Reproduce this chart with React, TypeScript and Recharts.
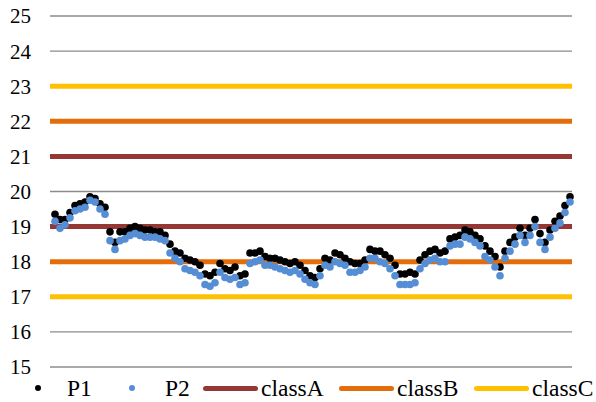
import React from 'react';
import { ScatterChart, Scatter, XAxis, YAxis, CartesianGrid } from 'recharts';

// Readings of the two probes, one per sample
const p1Values = [
  19.35, 19.2, 19.2, 19.4, 19.6, 19.65, 19.7, 19.85, 19.8, 19.65, 19.55,
  18.85, 18.55, 18.85, 18.85, 18.95, 19.0, 18.95, 18.9, 18.9, 18.85, 18.85, 18.75,
  18.5, 18.3, 18.25, 18.1, 18.05, 18.0, 17.9, 17.65, 17.6, 17.7, 17.95, 17.8, 17.75,
  17.85, 17.6, 17.65, 18.25, 18.25, 18.3, 18.15, 18.1, 18.1, 18.05, 18.0, 17.95,
  18.0, 17.9, 17.75, 17.6, 17.55, 17.8, 18.1, 18.05, 18.25, 18.2, 18.1, 18.0,
  17.95, 17.95, 18.05, 18.35, 18.3, 18.3, 18.2, 18.1, 17.9, 17.65, 17.65, 17.7,
  17.65, 18.05, 18.2, 18.3, 18.35, 18.25, 18.3, 18.65, 18.7, 18.75, 18.9, 18.85,
  18.75, 18.65, 18.45, 18.3, 18.15, 17.85, 18.3, 18.55, 18.7, 18.95, 18.75, 18.95,
  19.2, 18.8, 18.55, 18.9, 19.15, 19.3, 19.6, 19.85,
];

const p2Values = [
  19.15, 18.95, 19.05, 19.25, 19.45, 19.5, 19.55, 19.75, 19.7, 19.5, 19.35,
  18.6, 18.35, 18.6, 18.65, 18.75, 18.8, 18.75, 18.7, 18.7, 18.7, 18.65, 18.6,
  18.25, 18.1, 18.0, 17.8, 17.75, 17.7, 17.6, 17.35, 17.3, 17.4, 17.7, 17.55, 17.5,
  17.55, 17.35, 17.4, 17.95, 18.0, 18.05, 17.9, 17.9, 17.85, 17.8, 17.75, 17.7,
  17.75, 17.65, 17.5, 17.4, 17.35, 17.6, 17.9, 17.85, 18.0, 17.95, 17.9, 17.7,
  17.7, 17.75, 17.85, 18.1, 18.1, 18.0, 17.95, 17.8, 17.6, 17.35, 17.35, 17.35,
  17.4, 17.8, 17.95, 18.05, 18.1, 18.0, 18.0, 18.45, 18.5, 18.5, 18.7, 18.65,
  18.55, 18.45, 18.15, 18.05, 17.85, 17.6, 18.1, 18.3, 18.5, 18.75, 18.55, 18.75,
  19.0, 18.55, 18.35, 18.7, 18.95, 19.1, 19.4, 19.7,
];

// Class limits (lower and upper bound of each band)
const classALevels = [19, 21];
const classBLevels = [18, 22];
const classCLevels = [17, 23];

const yTicks = [15, 16, 17, 18, 19, 20, 21, 22, 23, 24, 25];

const X_MIN = -1;
const X_MAX = 103.4;

const FONT = "'Liberation Serif', 'Times New Roman', Times, 'DejaVu Serif'";

const pointSeries = [
  { name: 'P1', color: '#000000', values: p1Values },
  { name: 'P2', color: '#558ED5', values: p2Values },
];

const classSeries = [
  { name: 'classA', color: '#953735', levels: classALevels },
  { name: 'classB', color: '#E46C0A', levels: classBLevels },
  { name: 'classC', color: '#FFC000', levels: classCLevels },
];

// left edges of each legend entry (marker, then label)
const legendLayout = [
  { marker: 38, text: 67 },
  { marker: 132, text: 165 },
  { marker: 203, text: 261 },
  { marker: 339, text: 397 },
  { marker: 474, text: 532 },
];

const toPoints = (values: number[]) => values.map((y, i) => ({ x: i, y }));

function Dot(props: any) {
  const { cx, cy, fill } = props;
  if (cx == null || cy == null) return <g />;
  return <circle cx={cx} cy={cy} r={3.8} fill={fill} />;
}

function Legend() {
  const entries = [
    ...pointSeries.map((s) => ({ name: s.name, color: s.color, kind: 'dot' })),
    ...classSeries.map((s) => ({ name: s.name, color: s.color, kind: 'line' })),
  ];
  return (
    <>
      {entries.map((e, i) => {
        const pos = legendLayout[i];
        return (
          <React.Fragment key={e.name}>
            {e.kind === 'dot' ? (
              <div
                style={{
                  position: 'absolute',
                  left: pos.marker - 3.3,
                  top: 388 - 3.3,
                  width: 6.6,
                  height: 6.6,
                  borderRadius: '50%',
                  background: e.color,
                }}
              />
            ) : (
              <div
                style={{
                  position: 'absolute',
                  left: pos.marker,
                  top: 388 - 2.5,
                  width: 55,
                  height: 5,
                  borderRadius: 2.5,
                  background: e.color,
                }}
              />
            )}
            <span
              style={{
                position: 'absolute',
                left: pos.text,
                top: 374,
                fontFamily: FONT,
                fontSize: 23.5,
                lineHeight: '28px',
                color: '#000',
                whiteSpace: 'nowrap',
              }}
            >
              {e.name}
            </span>
          </React.Fragment>
        );
      })}
    </>
  );
}

export default function App() {
  return (
    <div style={{ position: 'absolute', left: 0, top: 0, width: 596, height: 402, background: '#fff', fontFamily: FONT }}>
      <ScatterChart width={596} height={402} margin={{ top: 16, right: 24, bottom: 35, left: 0 }}>
        <CartesianGrid vertical={false} stroke="#8c8c8c" strokeWidth={1.4} />
        <XAxis type="number" dataKey="x" domain={[X_MIN, X_MAX]} hide />
        <YAxis
          type="number"
          dataKey="y"
          domain={[15, 25]}
          ticks={yTicks}
          width={50}
          axisLine={false}
          tickLine={false}
          tickSize={6}
          tickMargin={13}
          tick={{ fill: '#000', fontSize: 21, fontFamily: FONT }}
        />
        {classSeries.flatMap((c) =>
          c.levels.map((level) => (
            <Scatter
              key={`${c.name}-${level}`}
              name={c.name}
              data={[
                { x: X_MIN, y: level },
                { x: X_MAX, y: level },
              ]}
              line={{ stroke: c.color, strokeWidth: 5 }}
              lineType="joint"
              shape={() => <g />}
              isAnimationActive={false}
            />
          ))
        )}
        {pointSeries.map((s) => (
          <Scatter
            key={s.name}
            name={s.name}
            data={toPoints(s.values)}
            fill={s.color}
            shape={<Dot />}
            isAnimationActive={false}
          />
        ))}
      </ScatterChart>
      <Legend />
    </div>
  );
}
